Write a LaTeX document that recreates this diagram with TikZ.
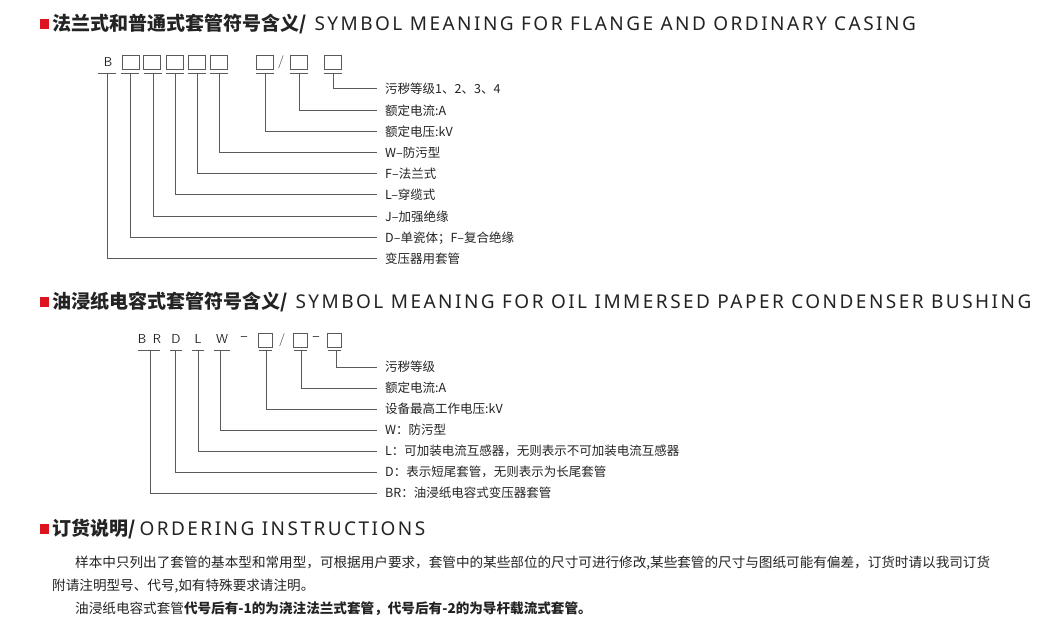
\documentclass[tikz,border=0pt]{standalone}
\usepackage{fontspec}
\newfontfamily\cjk{Noto Sans CJK SC}
\newfontfamily\eng{Noto Sans}[LetterSpace=13]
\definecolor{hred}{RGB}{220,20,30}
\definecolor{ink}{RGB}{35,35,35}
\definecolor{ln}{RGB}{90,90,90}
\tikzset{
 hd/.style={anchor=west,inner sep=0pt,text=ink,font=\cjk\bfseries\fontsize{19}{19}\selectfont},
 lab/.style={anchor=west,inner sep=0pt,text=ink,font=\cjk\fontsize{12.5}{13}\selectfont},
 body/.style={anchor=west,inner sep=0pt,text=ink,font=\cjk\fontsize{13.6}{14}\selectfont},
 sq/.style={draw=ln,line width=0.8pt,minimum width=17pt,minimum height=14pt,inner sep=0pt},
 ltr/.style={inner sep=0pt,text=ink,font=\sffamily\fontsize{13}{13}\selectfont},
 con/.style={draw=ln,line width=0.8pt},
 bul/.style={fill=hred,minimum width=9pt,minimum height=10pt,inner sep=0pt}
}
\begin{document}
\begin{tikzpicture}[x=1pt,y=-1pt]
\useasboundingbox (0,0) rectangle (1059,633);
% headers
\node[bul] (b1) at (44,24) {};
\node[hd] (h1) at (52,24) {法兰式和普通式套管符号含义/\hspace{8pt}{\eng SYMBOL MEANING FOR FLANGE AND ORDINARY CASING}};
\node[bul] (b2) at (44,302) {};
\node[hd] (h2) at (52,302) {油浸纸电容式套管符号含义/\hspace{8pt}{\eng SYMBOL MEANING FOR OIL IMMERSED PAPER CONDENSER BUSHING}};
\node[bul] (b3) at (44,529) {};
\node[hd] (h3) at (52,529) {订货说明/\hspace{4pt}{\eng ORDERING INSTRUCTIONS}};
% diagram 1
\node[ltr] (d1b) at (108,62) {B};
\foreach \n/\x in {1/131,2/152,3/175,4/197,5/219,6/265,7/299,8/333}{
  \node[sq] (d1s\n) at (\x,62) {};
}
\node[ltr] (d1sl) at (281,62) {/};
\foreach \n/\x/\y/\txt in {8/333/88/{污秽等级1、2、3、4},7/299/110/{额定电流:A},6/265/131/{额定电压:kV},5/219/152/{W–防污型},4/197/173/{F–法兰式},3/175/194/{L–穿缆式},2/153/216/{J–加强绝缘},1/130/237/{D–单瓷体；F–复合绝缘},0/107/258/{变压器用套管}}{
  \coordinate (t1\n) at (\x,73);
  \coordinate (c1\n) at (\x,\y);
  \coordinate (e1\n) at (377,\y);
  \node[lab] (l1\n) at (385,\y+1) {\txt};
  \draw[con] (\x-9,73) -- (\x+9,73);
  \draw[con] (t1\n) -- (c1\n) -- (e1\n);
}
% diagram 2
\foreach \n/\x/\txt in {1/142/B,2/157/R,3/176/D,4/198/L,5/222/W,6/244/–,8/316/–}{
  \node[ltr] (d2l\n) at (\x,339) {\txt};
}
\node[sq,minimum width=14pt] (d2s1) at (265,340) {};
\node[sq,minimum width=14pt] (d2s2) at (300,340) {};
\node[sq,minimum width=14pt] (d2s3) at (334,340) {};
\node[ltr] (d2sl) at (282,340) {/};
\foreach \n/\x/\y/\txt in {6/336/367/{污秽等级},5/301/388/{额定电流:A},4/266/409/{设备最高工作电压:kV},3/220/430/{W：防污型},2/198/451/{L：可加装电流互感器，无则表示不可加装电流互感器},1/175/472/{D：表示短尾套管，无则表示为长尾套管},0/150/493/{BR：油浸纸电容式变压器套管}}{
  \coordinate (t2\n) at (\x,350);
  \coordinate (c2\n) at (\x,\y);
  \coordinate (e2\n) at (377,\y);
  \node[lab] (l2\n) at (385,\y) {\txt};
  \draw[con] (t2\n) -- (c2\n) -- (e2\n);
}
\draw[con] (138,350) -- (160,350);
\draw[con] (170,350) -- (182,350);
\draw[con] (192,350) -- (204,350);
\draw[con] (214,350) -- (230,350);
\draw[con] (259,350) -- (272,350);
\draw[con] (294,350) -- (307,350);
\draw[con] (328,350) -- (341,350);
% body
\node[body] (p1) at (75,563) {样本中只列出了套管的基本型和常用型，可根据用户要求，套管中的某些部位的尺寸可进行修改,某些套管的尺寸与图纸可能有偏差，订货时请以我司订货};
\node[body] (p2) at (52,586) {附请注明型号、代号,如有特殊要求请注明。};
\node[body] (p3) at (75,609) {油浸纸电容式套管{\bfseries 代号后有-1的为浇注法兰式套管，代号后有-2的为导杆载流式套管。}};
\end{tikzpicture}
\end{document}
